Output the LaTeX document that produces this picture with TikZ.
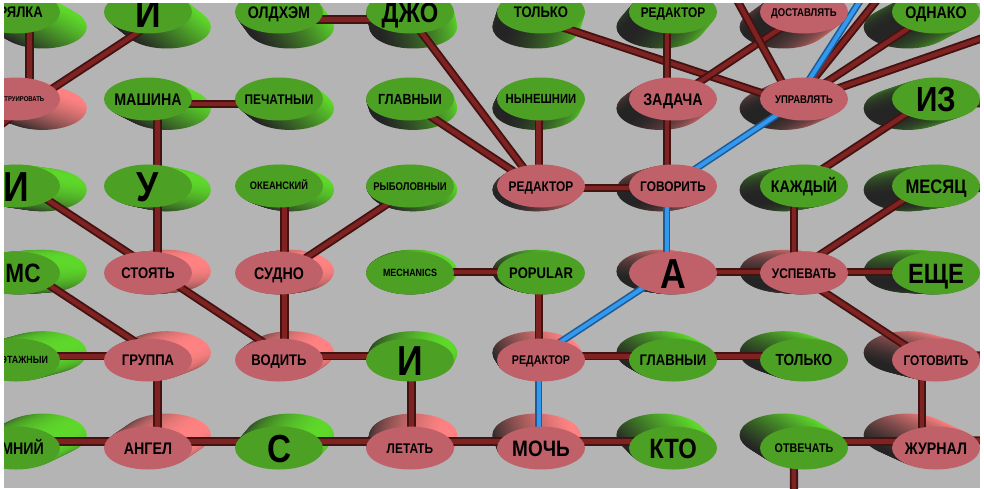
\documentclass[tikz,border=0pt]{standalone}
\usepackage{fontspec}
\newfontfamily\lab[FakeStretch=0.85]{Liberation Sans}
\usetikzlibrary{shapes.geometric}
\definecolor{bg}{HTML}{B4B4B4}
\definecolor{gface}{HTML}{4CA024}
\definecolor{glit}{HTML}{5ED82A}
\definecolor{pface}{HTML}{C0616A}
\definecolor{plit}{HTML}{FF8282}
\definecolor{dk}{HTML}{242424}
\definecolor{rodL}{HTML}{7E2222}
\definecolor{rodD}{HTML}{451212}
\definecolor{bluL}{HTML}{3399EE}
\definecolor{bluD}{HTML}{1D5A96}
\pgfdeclarelayer{bgl}
\pgfdeclarelayer{ext}
\pgfdeclarelayer{rods}
\pgfdeclarelayer{topl}
\pgfsetlayers{bgl,ext,rods,main,topl}
\tikzset{
  rod/.style={draw=rodD, line width=1.9pt, double=rodL, double distance=4.4pt},
  brod/.style={draw=bluD, line width=1.6pt, double=bluL, double distance=4pt},
  face/.style={ellipse, minimum width=88pt, minimum height=43pt, inner sep=0pt, draw=none},
}
% [text shift], name, x, y, kind (g/p), cap height, text
\newcommand\gnode[7][0]{%
  \pgfmathsetmacro\ddx{0.06*(463-#3)}%
  \pgfmathsetmacro\ddy{0.064*(246-#4)}%
  \begin{pgfonlayer}{ext}
    \foreach \i in {14,...,1}{
      \shade[top color=#5lit, middle color=#5lit!35!dk, bottom color=dk, shading angle=-40]
        ({#3+\ddx*\i/14},{#4+\ddy*\i/14}) ellipse [x radius=44pt, y radius=21.5pt];
    }
  \end{pgfonlayer}
  \coordinate (#2-m) at ({#3+0.5*\ddx},{#4+0.5*\ddy});
  \node[face, fill=#5face] (#2) at (#3,#4) {};
  \pgfmathsetmacro\fs{#6/0.716}%
  \node[inner sep=0pt, text height=#6pt, text depth=0pt,
        font=\lab\bfseries\fontsize{\fs pt}{\fs pt}\selectfont] (#2-t) at ({#3+#1},#4) {#7};
}
\begin{document}
\begin{tikzpicture}[x=1pt,y=-1pt]
\useasboundingbox (0,0) rectangle (984,488);
\begin{pgfonlayer}{bgl}
  \fill[bg] (0,0) rectangle (984,488);
\end{pgfonlayer}
% row a
\gnode{a0}{16}{12}{g}{11}{ПРЯЛКА}
\gnode{a1}{148}{12}{g}{30}{И}
\gnode{a2}{279}{12}{g}{12}{ОЛДХЭМ}
\gnode{a3}{410}{12}{g}{20}{ДЖО}
\gnode{a4}{541}{12}{g}{11}{ТОЛЬКО}
\gnode{a5}{673}{12}{g}{10}{РЕДАКТОР}
\gnode{a6}{804}{12}{p}{8}{ДОСТАВЛЯТЬ}
\gnode{a7}{936}{12}{g}{12}{ОДНАКО}
% row b
\gnode{b0}{16}{99}{p}{5}{КОНСТРУИРОВАТЬ}
\gnode{b1}{148}{99}{g}{12}{МАШИНА}
\gnode{b2}{279}{99}{g}{10}{ПЕЧАТНЫИ}
\gnode{b3}{410}{99}{g}{10.5}{ГЛАВНЫИ}
\gnode{b4}{541}{99}{g}{9.5}{НЫНЕШНИИ}
\gnode{b5}{673}{99}{p}{12}{ЗАДАЧА}
\gnode{b6}{804}{99}{p}{8}{УПРАВЛЯТЬ}
\gnode{b7}{936}{99}{g}{25}{ИЗ}
% row c
\gnode{c0}{16}{186}{g}{30}{И}
\gnode{c1}{148}{186}{g}{30}{У}
\gnode{c2}{279}{186}{g}{7.8}{ОКЕАНСКИЙ}
\gnode{c3}{410}{186}{g}{8}{РЫБОЛОВНЫИ}
\gnode{c4}{541}{186}{p}{10}{РЕДАКТОР}
\gnode{c5}{673}{186}{p}{10}{ГОВОРИТЬ}
\gnode{c6}{804}{186}{g}{12}{КАЖДЫЙ}
\gnode{c7}{936}{186}{g}{14}{МЕСЯЦ}
% row d
\gnode[7]{d0}{16}{273}{g}{19}{МС}
\gnode{d1}{148}{273}{p}{11}{СТОЯТЬ}
\gnode{d2}{279}{273}{p}{12}{СУДНО}
\gnode{d3}{410}{273}{g}{7.5}{MECHANICS}
\gnode{d4}{541}{273}{g}{11}{POPULAR}
\gnode{d5}{673}{273}{p}{30}{А}
\gnode{d6}{804}{273}{p}{10}{УСПЕВАТЬ}
\gnode{d7}{936}{273}{g}{20}{ЕЩЕ}
% row e
\gnode[-8]{e0}{16}{360}{g}{7.5}{МНОГОЭТАЖНЫИ}
\gnode{e1}{148}{360}{p}{11}{ГРУППА}
\gnode{e2}{279}{360}{p}{11}{ВОДИТЬ}
\gnode{e3}{410}{360}{g}{30}{И}
\gnode{e4}{541}{360}{p}{9}{РЕДАКТОР}
\gnode{e5}{673}{360}{g}{11}{ГЛАВНЫИ}
\gnode{e6}{804}{360}{g}{11.5}{ТОЛЬКО}
\gnode{e7}{936}{360}{p}{10}{ГОТОВИТЬ}
% row f
\gnode[-3]{f0}{16}{448}{g}{12}{ЗИМНИЙ}
\gnode{f1}{148}{448}{p}{12}{АНГЕЛ}
\gnode{f2}{279}{448}{g}{28}{С}
\gnode{f3}{410}{448}{p}{10}{ЛЕТАТЬ}
\gnode{f4}{541}{448}{p}{16}{МОЧЬ}
\gnode{f5}{673}{448}{g}{20}{КТО}
\gnode{f6}{804}{448}{g}{9}{ОТВЕЧАТЬ}
\gnode{f7}{936}{448}{p}{12}{ЖУРНАЛ}
% free ends
\coordinate (o1) at (-20,140);
\coordinate (o2) at (726,-20);
\coordinate (o3) at (867,-10);
\coordinate (o4) at (885,-10);
\coordinate (o5) at (1000,32);
\coordinate (o6) at (1000,103);
\coordinate (o7) at (1000,188);
\coordinate (o8) at (1000,355);
\coordinate (o9) at (1000,440);
\coordinate (o10) at (794,500);
\begin{pgfonlayer}{rods}
  \foreach \u/\v in {a0/b0, b0/a1, b1/b2, b1/c1, a2/a3, a3/c4, b3/c4, b4/c4,
    a4/b6, a5/b5, a6/b5, a7/b6, b7/c6, c4/c5, b5/c5, c6/d6, c7/d6, d5/d6, d6/d7,
    d6/e7, e7/f7, f7/f6, e5/e6, e4/e5, d4/e4, d3/d4, f4/f5, f3/f4, f3/e3, e3/e2,
    f2/f3, f1/f2, f1/e1, f1/f0, e1/e0, e1/d0, d1/c0, d1/c1, d1/e2, d2/e2, d2/c2, d2/c3}
    {\draw[rod] (\u-m) -- (\v-m);}
  \draw[rod] (b0-m) -- (o1);
  \draw[rod] (o2) -- (b6-m);
  \draw[rod] (o4) -- (b6-m);
  \draw[rod] (o5) -- (b6-m);
  \draw[rod] (b7-m) -- (o6);
  \draw[rod] (c7-m) -- (o7);
  \draw[rod] (e7-m) -- (o8);
  \draw[rod] (f7-m) -- (o9);
  \draw[rod] (f6-m) -- (o10);
  \draw[brod] (o3) -- (b6-m);
  \foreach \u/\v in {b6/c5, c5/d5, d5/e4, e4/f4}
    {\draw[brod] (\u-m) -- (\v-m);}
\end{pgfonlayer}
\begin{pgfonlayer}{topl}
  \fill[white] (0,0) rectangle (4,488);
  \fill[white] (0,0) rectangle (984,3);
  \fill[white] (980,0) rectangle (984,488);
\end{pgfonlayer}
\end{tikzpicture}
\end{document}
